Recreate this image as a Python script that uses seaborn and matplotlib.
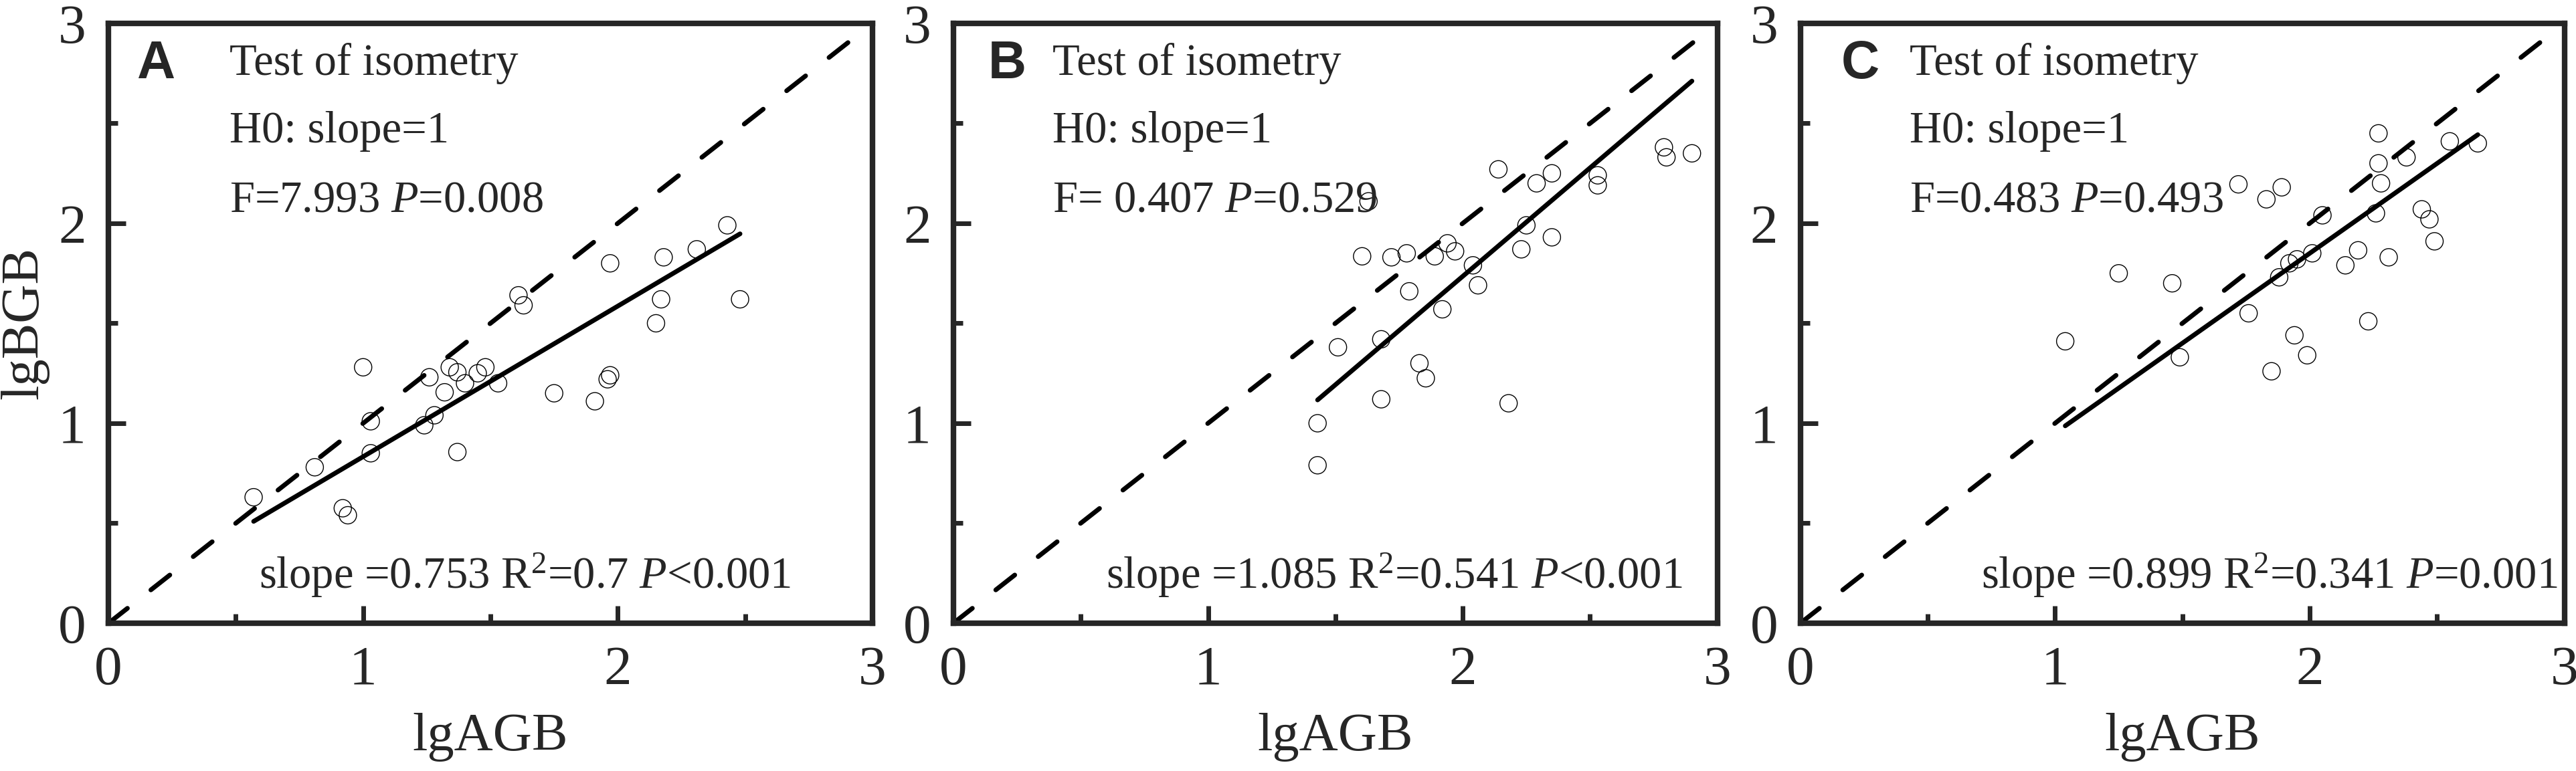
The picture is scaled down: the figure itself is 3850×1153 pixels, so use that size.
import numpy as np
import pandas as pd
import matplotlib
matplotlib.use('Agg')
import matplotlib.pyplot as plt
from matplotlib.ticker import MultipleLocator
import seaborn as sns

# ── DATA ────────────────────────────────────────────────
panels = ['A', 'B', 'C']

a_agb = [0.57, 0.81, 0.92, 0.94, 1.00, 1.03, 1.03, 1.24, 1.26, 1.28, 1.32, 1.34,
         1.37, 1.37, 1.40, 1.45, 1.48, 1.53, 1.61, 1.63, 1.75, 1.91, 1.96, 1.97,
         1.97, 2.15, 2.17, 2.18, 2.31, 2.43, 2.48]
a_bgb = [0.63, 0.78, 0.575, 0.54, 1.28, 1.01, 0.85, 0.99, 1.23, 1.04, 1.155, 1.28,
         1.255, 0.856, 1.20, 1.25, 1.28, 1.20, 1.64, 1.59, 1.15, 1.11, 1.22, 1.24,
         1.80, 1.50, 1.62, 1.83, 1.87, 1.99, 1.62]

b_agb = [1.43, 1.43, 1.51, 1.605, 1.63, 1.68, 1.68, 1.72, 1.78, 1.79, 1.83, 1.855,
         1.89, 1.92, 1.94, 1.97, 2.04, 2.06, 2.14, 2.18, 2.23, 2.25, 2.29, 2.35,
         2.35, 2.53, 2.53, 2.79, 2.80, 2.90]
b_bgb = [1.00, 0.79, 1.38, 1.835, 2.11, 1.42, 1.12, 1.83, 1.85, 1.66, 1.30, 1.225,
         1.835, 1.57, 1.90, 1.86, 1.79, 1.69, 2.27, 1.10, 1.87, 1.99, 2.20, 2.25,
         1.93, 2.24, 2.19, 2.38, 2.33, 2.35]

c_agb = [1.04, 1.25, 1.46, 1.49, 1.72, 1.76, 1.83, 1.85, 1.89, 1.88, 1.92, 1.95,
         1.94, 1.99, 2.01, 2.05, 2.14, 2.19, 2.23, 2.26, 2.27, 2.27, 2.28, 2.31,
         2.38, 2.44, 2.47, 2.49, 2.55, 2.66]
c_bgb = [1.41, 1.75, 1.70, 1.33, 2.195, 1.55, 2.12, 1.26, 2.18, 1.73, 1.80, 1.82,
         1.44, 1.34, 1.85, 2.04, 1.79, 1.865, 1.51, 2.05, 2.45, 2.30, 2.20, 1.83,
         2.33, 2.07, 2.02, 1.91, 2.41, 2.40]

slopes = [0.753, 1.085, 0.899]
intercepts = [0.08, -0.435, 0.052]
f_vals = ['7.993', ' 0.407', '0.483']
f_p = ['0.008', '0.529', '0.493']
r2_vals = ['0.7', '0.541', '0.341']
slope_p = ['<0.001', '<0.001', '=0.001']

# text placement per panel (data units)
letter_x = [0.11, 0.137, 0.16]
head_x = [0.475, 0.39, 0.43]
slope_x = [0.59, 0.60, 0.71]

xs = [a_agb, b_agb, c_agb]
ys = [a_bgb, b_bgb, c_bgb]

# ── STYLE ────────────────────────────────────────────────
sns.set_style('ticks')
plt.rcParams['font.family'] = ['Liberation Serif', 'DejaVu Serif']
plt.rcParams['mathtext.fontset'] = 'custom'
plt.rcParams['mathtext.rm'] = 'Liberation Serif'
plt.rcParams['mathtext.it'] = 'Liberation Serif:italic'

fig = plt.figure(figsize=(38.5, 11.53), dpi=100)
lefts = [0.0421, 0.3701, 0.6989]

for i, p in enumerate(panels):
    ax = fig.add_axes([lefts[i], 0.1917, 0.2966, 0.778])
    df = pd.DataFrame({'lgAGB': xs[i], 'lgBGB': ys[i]})

    # 1:1 isometry line
    iso = pd.DataFrame({'x': [0, 3], 'y': [0, 3]})
    sns.lineplot(data=iso, x='x', y='y', ax=ax, color='black', lw=5,
                 linestyle=(0, (5.2, 6.4)), dash_capstyle='round')

    # fitted line over the data range
    xr = np.array([df.lgAGB.min(), df.lgAGB.max()])
    fit = pd.DataFrame({'x': xr, 'y': intercepts[i] + slopes[i] * xr})
    sns.lineplot(data=fit, x='x', y='y', ax=ax, color='black', lw=5,
                 solid_capstyle='round')

    sns.scatterplot(data=df, x='lgAGB', y='lgBGB', ax=ax, s=350,
                    facecolor='none', edgecolor='black', linewidth=1.0, zorder=3)

    ax.set_xlim(0, 3)
    ax.set_ylim(0, 3)
    ax.xaxis.set_major_locator(MultipleLocator(1))
    ax.yaxis.set_major_locator(MultipleLocator(1))
    ax.xaxis.set_minor_locator(MultipleLocator(0.5))
    ax.yaxis.set_minor_locator(MultipleLocator(0.5))
    ax.tick_params(which='both', direction='in', width=5, labelsize=60,
                   pad=24, top=False, right=False)
    ax.tick_params(which='major', length=19)
    ax.tick_params(which='minor', length=10)
    for s in ax.spines.values():
        s.set_linewidth(6)
        s.set_visible(True)

    ax.set_xlabel('lgAGB', fontsize=58, labelpad=18)
    if i == 0:
        ax.set_ylabel('lgBGB', fontsize=58, labelpad=10)
    else:
        ax.set_ylabel('')

    ax.text(letter_x[i], 2.726, p, fontsize=57, fontweight='bold',
            family='Liberation Sans', va='baseline', ha='left')
    ax.text(head_x[i], 2.742, 'Test of isometry', fontsize=48, va='baseline')
    ax.text(head_x[i], 2.405, 'H0: slope=1', fontsize=48, va='baseline')
    ax.text(head_x[i], 2.06, 'F=' + f_vals[i] + ' $P$=' + f_p[i],
            fontsize=48, va='baseline')
    ax.text(slope_x[i], 0.174,
            'slope =' + str(slopes[i]) + ' R$^{2}$=' + r2_vals[i] + ' $P$' + slope_p[i],
            fontsize=48, va='baseline')

fig.savefig('out.png', dpi=100)
